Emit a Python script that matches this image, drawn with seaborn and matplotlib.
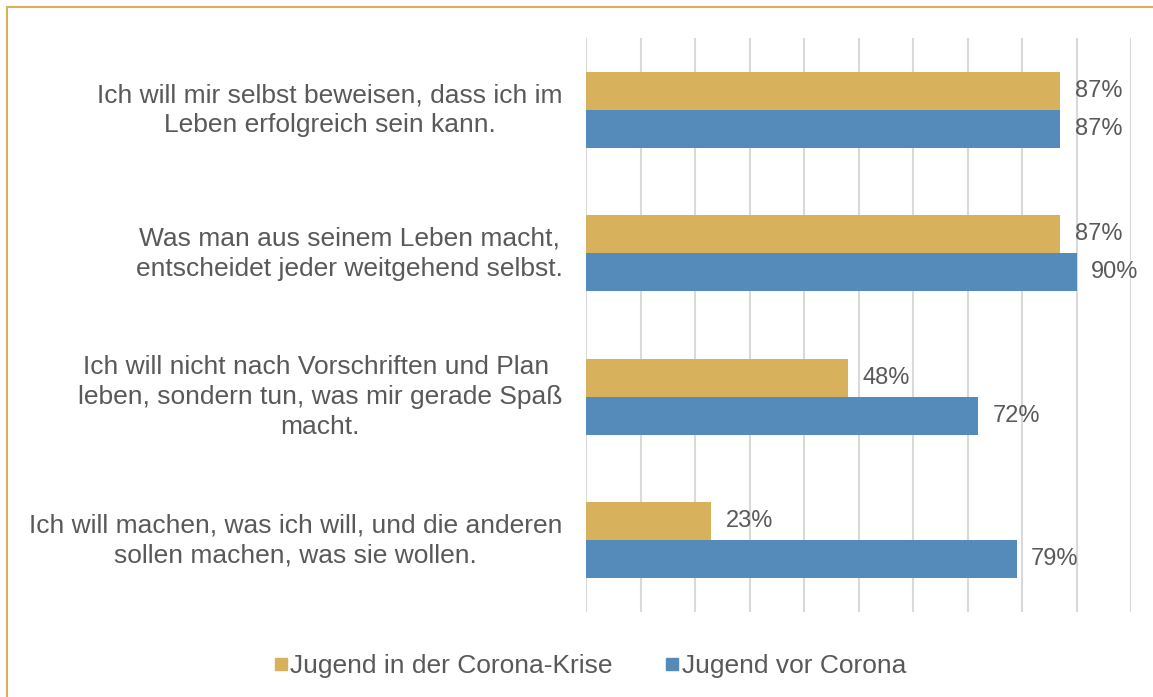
import matplotlib
matplotlib.use("Agg")
import matplotlib.pyplot as plt
import matplotlib.transforms as mtransforms
import seaborn as sns
import pandas as pd
from matplotlib.lines import Line2D

categories = [
    "Ich will mir selbst beweisen, dass ich im\nLeben erfolgreich sein kann.",
    "Was man aus seinem Leben macht,\nentscheidet jeder weitgehend selbst.",
    "Ich will nicht nach Vorschriften und Plan \nleben, sondern tun, was mir gerade Spaß\nmacht.",
    "Ich will machen, was ich will, und die anderen\nsollen machen, was sie wollen.",
]
series_names = ["Jugend in der Corona-Krise", "Jugend vor Corona"]
krise = [87, 87, 48, 23]
vor = [87, 90, 72, 79]
colors = ["#D8B15D", "#548BBA"]

df = pd.DataFrame({
    "cat": categories * 2,
    "series": [series_names[0]] * 4 + [series_names[1]] * 4,
    "val": krise + vor,
})

sns.set_theme(style="white")
plt.rcParams["font.family"] = ["Liberation Sans", "DejaVu Sans"]
text_color = "#595959"

fig = plt.figure(figsize=(11.53, 6.97), dpi=100)
ax = fig.add_axes([586 / 1153, 1 - 612 / 697, (1131 - 586) / 1153, (612 - 38) / 697])

sns.barplot(data=df, y="cat", x="val", hue="series", order=categories,
            hue_order=series_names, palette=colors, orient="h", width=0.53,
            saturation=1, linewidth=0, ax=ax, legend=False)

ax.set_xlim(0, 100)
ax.set_ylim(3.5, -0.5)
ax.set_xticks(range(0, 101, 10))
ax.xaxis.grid(True, color="#D9D9D9", linewidth=1.5)
ax.set_axisbelow(True)
ax.tick_params(axis="x", labelbottom=False, length=0)
ax.tick_params(axis="y", length=0, pad=17, labelsize=19, labelcolor=text_color)
shift = mtransforms.ScaledTranslation(0, 5 / 100, fig.dpi_scale_trans)
for lab in ax.get_yticklabels():
    lab.set_horizontalalignment("right")
    lab.set_multialignment("center")
    lab.set_linespacing(1.32)
    lab.set_transform(lab.get_transform() + shift)
ax.set_xlabel("")
ax.set_ylabel("")
for s in ax.spines.values():
    s.set_visible(False)

for cont in ax.containers:
    ax.bar_label(cont, labels=[f"{int(v)}%" for v in cont.datavalues],
                 padding=10.5, fontsize=17, color=text_color)

handles = [Line2D([], [], marker="s", linestyle="none", markersize=9,
                  markerfacecolor=c, markeredgecolor=c) for c in colors]
fig.legend(handles, series_names, loc="center", bbox_to_anchor=(589 / 1153, 1 - 666 / 697),
           ncol=2, frameon=False, fontsize=19, labelcolor=text_color,
           handletextpad=0.0, columnspacing=1.9, handlelength=0.7)

border = "#D8B15D"
fig.add_artist(Line2D([7 / 1153, 7 / 1153], [0, 1 - 7 / 697], transform=fig.transFigure,
                      color=border, linewidth=1.5))
fig.add_artist(Line2D([7 / 1153, 1], [1 - 7 / 697, 1 - 7 / 697], transform=fig.transFigure,
                      color=border, linewidth=1.5))

fig.savefig("out.png", dpi=100)
